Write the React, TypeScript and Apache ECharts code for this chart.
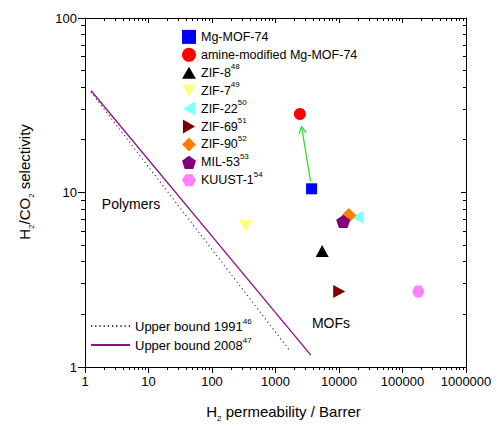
import React, { useEffect, useRef } from "react";
import * as echarts from "echarts";

// ---------- data ----------
const seriesNames = [
  "Mg-MOF-74",
  "amine-modified Mg-MOF-74",
  "ZIF-8",
  "ZIF-7",
  "ZIF-22",
  "ZIF-69",
  "ZIF-90",
  "MIL-53",
  "KUUST-1",
];
const refNumbers = ["", "", "48", "49", "50", "51", "52", "53", "54"];
const h2Permeability = [3700, 2420, 5430, 340, 19650, 10070, 14320, 11650, 177800];
const h2co2Selectivity = [10.5, 28.2, 4.62, 6.42, 7.22, 2.71, 7.39, 6.83, 2.71];

const boundNames = ["Upper bound 1991", "Upper bound 2008"];
const boundRefs = ["46", "47"];
const bound1991X = [1.24, 1680];
const bound1991Y = [37.7, 1.24];
const bound2008X = [1.25, 3600];
const bound2008Y = [38.3, 1.17];

// arrow from Mg-MOF-74 to amine-modified Mg-MOF-74 (data space)
const arrowFrom = [3565, 11.6];
const arrowTo = [2570, 23.9];

const xTickLabels = ["1", "10", "100", "1000", "10000", "100000", "1000000"];
const yTickLabels = ["1", "10", "100"];
const minorMultipliers = [2, 3, 4, 5, 6, 7, 8, 9];

// ---------- styles ----------
const FONT = "'Liberation Sans', Arial, sans-serif";
const seriesColors = [
  "#0000ff",
  "#ff0000",
  "#000000",
  "#ffff80",
  "#80ffff",
  "#800000",
  "#ff8000",
  "#800080",
  "#ff80ff",
];
const seriesSymbols = [
  "rect",
  "circle",
  "path://M50,0L100,87L0,87Z",
  "path://M0,0L100,0L50,87Z",
  "path://M0,50L87,0L87,100Z",
  "path://M0,0L87,50L0,100Z",
  "diamond",
  "path://M50,0L97.55,34.55L79.39,90.45L20.61,90.45L2.45,34.55Z",
  "path://M25,0L75,0L100,43.3L75,86.6L25,86.6L0,43.3Z",
];
const seriesSizes: number[][] = [
  [11, 11],
  [12, 12],
  [13, 12],
  [13, 12],
  [12, 13],
  [12, 13],
  [15, 15],
  [14, 13],
  [12.5, 12],
];

const xMinorValues: number[][] = [];
for (let d = 0; d < xTickLabels.length - 1; d++)
  for (const k of minorMultipliers) xMinorValues.push([k * Number(xTickLabels[d]), 1]);
const yMinorValues: number[][] = [];
for (let d = 0; d < yTickLabels.length - 1; d++)
  for (const k of minorMultipliers) yMinorValues.push([1, k * Number(yTickLabels[d])]);

const refMap: Record<string, string> = {};
seriesNames.forEach((n, i) => (refMap[n] = refNumbers[i]));
boundNames.forEach((n, i) => (refMap[n] = boundRefs[i]));

const black = { color: "#000", width: 1 };
const crisp = (v: number) => Math.round(v - 0.5) + 0.5;

function buildOption(): any {
  const xMin = Number(xTickLabels[0]);
  const xMax = Number(xTickLabels[xTickLabels.length - 1]);
  const yMin = Number(yTickLabels[0]);
  const yMax = Number(yTickLabels[yTickLabels.length - 1]);

  const nameStyle = {
    fontSize: 15,
    fontFamily: FONT,
    color: "#000",
    lineHeight: 18,
    rich: {
      sub: { fontSize: 8, fontFamily: FONT, color: "#000", lineHeight: 18, padding: [14, 0, 0, 0] },
    },
  };

  const xAxes = [
    {
      type: "log",
      logBase: 10,
      min: xMin,
      max: xMax,
      position: "bottom",
      axisLine: { show: true, onZero: false, lineStyle: black },
      axisTick: { show: true, inside: false, length: 6, lineStyle: black },
      axisLabel: {
        show: true,
        fontSize: 13,
        fontFamily: FONT,
        color: "#000",
        margin: 8,
        formatter: (v: number) => {
          const i = Math.round(Math.log10(v));
          return xTickLabels[i] ?? String(Math.round(v));
        },
      },
      splitLine: { show: false },
      name: "H{sub|2} permeability / Barrer",
      nameLocation: "middle",
      nameGap: 35,
      nameTextStyle: { ...nameStyle, padding: [0, 0, 0, 16] },
    },
    {
      type: "log",
      logBase: 10,
      min: xMin,
      max: xMax,
      position: "top",
      axisLine: { show: true, onZero: false, lineStyle: black },
      axisTick: { show: true, inside: true, length: 5, lineStyle: black },
      axisLabel: { show: false },
      splitLine: { show: false },
    },
  ];

  const yAxes = [
    {
      type: "log",
      logBase: 10,
      min: yMin,
      max: yMax,
      position: "left",
      axisLine: { show: true, onZero: false, lineStyle: black },
      axisTick: { show: true, inside: false, length: 7, lineStyle: black },
      axisLabel: {
        show: true,
        fontSize: 13,
        fontFamily: FONT,
        color: "#000",
        margin: 8,
        formatter: (v: number) => {
          const i = Math.round(Math.log10(v));
          return yTickLabels[i] ?? String(Math.round(v));
        },
      },
      splitLine: { show: false },
      name: "H{sub|2}/CO{sub|2} selectivity",
      nameLocation: "middle",
      nameRotate: 90,
      nameGap: 52,
      nameTextStyle: { ...nameStyle, padding: [0, 0, 0, 21] },
    },
    {
      type: "log",
      logBase: 10,
      min: yMin,
      max: yMax,
      position: "right",
      axisLine: { show: true, onZero: false, lineStyle: black },
      axisTick: { show: true, inside: true, length: 5, lineStyle: black },
      axisLabel: { show: false },
      splitLine: { show: false },
    },
  ];

  const scatterSeries = seriesNames.map((name, i) => ({
    type: "scatter",
    name,
    xAxisIndex: 0,
    yAxisIndex: 0,
    data: [[h2Permeability[i], h2co2Selectivity[i]]],
    symbol: seriesSymbols[i],
    symbolSize: seriesSizes[i],
    itemStyle: { color: seriesColors[i], opacity: 1 },
    z: 5,
  }));

  const boundSeries = [
    {
      type: "line",
      name: boundNames[0],
      xAxisIndex: 0,
      yAxisIndex: 0,
      data: bound1991X.map((x, i) => [x, bound1991Y[i]]),
      symbol: "none",
      showSymbol: false,
      lineStyle: { color: "#333", width: 1.1, type: [1.2, 3] },
      itemStyle: { color: "#333" },
      z: 3,
    },
    {
      type: "line",
      name: boundNames[1],
      xAxisIndex: 0,
      yAxisIndex: 0,
      data: bound2008X.map((x, i) => [x, bound2008Y[i]]),
      symbol: "none",
      showSymbol: false,
      lineStyle: { color: "#8b118b", width: 1.3, type: "solid" },
      itemStyle: { color: "#8b118b" },
      z: 3,
    },
  ];

  const arrowSeries = {
    type: "custom",
    name: "arrow",
    xAxisIndex: 0,
    yAxisIndex: 0,
    silent: true,
    z: 4,
    encode: { x: [0, 2], y: [1, 3] },
    data: [[arrowFrom[0], arrowFrom[1], arrowTo[0], arrowTo[1]]],
    renderItem: (_params: any, api: any) => {
      const p1 = api.coord([api.value(0), api.value(1)]);
      const p2 = api.coord([api.value(2), api.value(3)]);
      const dx = p2[0] - p1[0];
      const dy = p2[1] - p1[1];
      const len = Math.hypot(dx, dy) || 1;
      const ux = dx / len;
      const uy = dy / len;
      const hl = 7;
      const hw = 3.5;
      const b = [p2[0] - ux * hl, p2[1] - uy * hl];
      const l = [b[0] - uy * hw, b[1] + ux * hw];
      const r = [b[0] + uy * hw, b[1] - ux * hw];
      const stroke = "#22e022";
      return {
        type: "group",
        children: [
          {
            type: "line",
            shape: { x1: p1[0], y1: p1[1], x2: p2[0], y2: p2[1] },
            style: { stroke, lineWidth: 1.2 },
          },
          {
            type: "polyline",
            shape: { points: [l, p2, r] },
            style: { stroke, lineWidth: 1.2, fill: null },
          },
        ],
      };
    },
  };

  const xMinorSeries = {
    type: "custom",
    name: "xMinorTicks",
    xAxisIndex: 0,
    yAxisIndex: 0,
    silent: true,
    clip: false,
    z: 2,
    encode: { x: 0, y: 1 },
    data: xMinorValues,
    renderItem: (params: any, api: any) => {
      const cs = params.coordSys;
      const px = crisp(api.coord([api.value(0), yMin])[0]);
      const bottom = Math.round(cs.y + cs.height);
      const top = Math.round(cs.y);
      return {
        type: "group",
        children: [
          { type: "line", shape: { x1: px, y1: bottom, x2: px, y2: bottom + 3 }, style: { stroke: "#000", lineWidth: 1 } },
          { type: "line", shape: { x1: px, y1: top, x2: px, y2: top + 3 }, style: { stroke: "#000", lineWidth: 1 } },
        ],
      };
    },
  };

  const yMinorSeries = {
    type: "custom",
    name: "yMinorTicks",
    xAxisIndex: 0,
    yAxisIndex: 0,
    silent: true,
    clip: false,
    z: 2,
    encode: { x: 0, y: 1 },
    data: yMinorValues,
    renderItem: (params: any, api: any) => {
      const cs = params.coordSys;
      const py = crisp(api.coord([xMin, api.value(1)])[1]);
      const left = Math.round(cs.x);
      const right = Math.round(cs.x + cs.width);
      return {
        type: "group",
        children: [
          { type: "line", shape: { x1: left - 4, y1: py, x2: left, y2: py }, style: { stroke: "#000", lineWidth: 1 } },
          { type: "line", shape: { x1: right - 3, y1: py, x2: right, y2: py }, style: { stroke: "#000", lineWidth: 1 } },
        ],
      };
    },
  };

  const legendFormatter = (name: string) => {
    const r = refMap[name];
    return `${name}{sup|${r ? r : " "}}`;
  };

  return {
    animation: false,
    backgroundColor: "#fff",
    grid: { left: 85, right: 30, top: 18, bottom: 59, containLabel: false },
    xAxis: xAxes,
    yAxis: yAxes,
    legend: [
      {
        data: seriesNames,
        orient: "vertical",
        left: 182,
        top: 26.9,
        padding: 0,
        itemWidth: 14,
        itemHeight: 14,
        itemGap: -2.08,
        selectedMode: false,
        formatter: legendFormatter,
        textStyle: {
          fontSize: 12.5,
          fontFamily: FONT,
          color: "#000",
          lineHeight: 14,
          rich: {
            sup: { fontSize: 8, fontFamily: FONT, color: "#000", lineHeight: 14, padding: [0, 0, 12, 0] },
          },
        },
      },
      {
        data: boundNames,
        orient: "vertical",
        left: 90,
        top: 317,
        padding: 0,
        itemWidth: 39,
        itemHeight: 14,
        itemGap: 1,
        selectedMode: false,
        formatter: legendFormatter,
        itemStyle: { opacity: 0 },
        textStyle: {
          fontSize: 13,
          fontFamily: FONT,
          color: "#000",
          lineHeight: 14,
          rich: {
            sup: { fontSize: 8, fontFamily: FONT, color: "#000", lineHeight: 14, padding: [0, 0, 10, 0] },
          },
        },
      },
    ],
    graphic: [
      {
        type: "text",
        x: 131,
        y: 204,
        style: { text: "Polymers", fontSize: 14, fontFamily: FONT, fill: "#000", align: "center", verticalAlign: "middle" },
      },
      {
        type: "text",
        x: 331,
        y: 323,
        style: { text: "MOFs", fontSize: 14, fontFamily: FONT, fill: "#000", align: "center", verticalAlign: "middle" },
      },
    ],
    series: [xMinorSeries, yMinorSeries, ...boundSeries, arrowSeries, ...scatterSeries],
  };
}

export default function App() {
  const ref = useRef<HTMLDivElement>(null);
  useEffect(() => {
    if (!ref.current) return;
    const chart = echarts.init(ref.current, null, { renderer: "svg" });
    chart.setOption(buildOption());
    return () => chart.dispose();
  }, []);
  return (
    <div
      ref={ref}
      style={{ position: "absolute", left: 0, top: 0, width: 496, height: 427 }}
    />
  );
}
